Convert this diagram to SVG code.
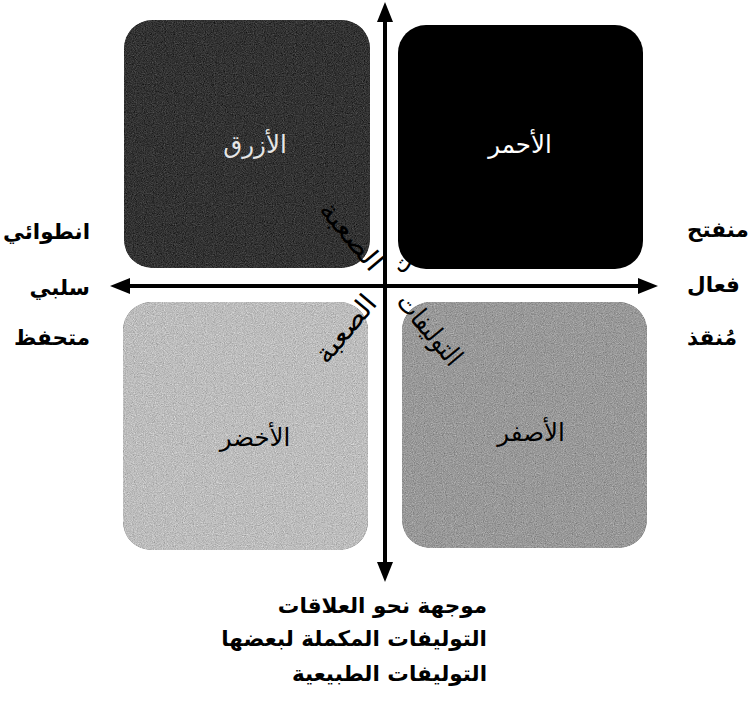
<svg xmlns="http://www.w3.org/2000/svg" width="749" height="701" viewBox="0 0 749 701">
<style>
text{font-family:"DejaVu Sans","Noto Sans",sans-serif;fill:#000}
.lbl{font-size:21.5px;font-weight:bold}
.box{font-size:24.5px;text-anchor:middle}
.side{font-size:21.5px;font-weight:bold}
.diag{font-size:27px;text-anchor:middle}
.axis{stroke:#000;stroke-width:4;fill:none;marker-start:url(#ah);marker-end:url(#ah)}
</style>
<defs>
<marker id="ah" markerUnits="userSpaceOnUse" markerWidth="20" markerHeight="16" refX="12" refY="8" orient="auto-start-reverse" viewBox="0 0 20 16">
<path d="M0,0 L20,8 L0,16 z" fill="#000"/>
</marker>
<filter id="grain" x="0" y="0" width="100%" height="100%" color-interpolation-filters="sRGB">
<feTurbulence type="fractalNoise" baseFrequency="0.9" numOctaves="2" seed="7" result="n"/>
<feColorMatrix in="n" type="matrix" values="0.33 0.33 0.33 0 0  0.33 0.33 0.33 0 0  0.33 0.33 0.33 0 0  0 0 0 0 1" result="g"/>
<feComposite in="SourceGraphic" in2="g" operator="arithmetic" k1="0" k2="1" k3="0.6" k4="-0.3" result="mix"/>
<feComposite in="mix" in2="SourceAlpha" operator="in"/>
</filter>
</defs>
<rect width="749" height="701" fill="#fff"/>
<g id="node-blue">
<rect x="124" y="20" width="246" height="248" rx="28" fill="#333" filter="url(#grain)"/>
<text class="box" x="255" y="153" style="fill:#e6e6e6">الأزرق</text>
</g>
<g id="node-red">
<rect x="398" y="25" width="245" height="244" rx="28" fill="#000"/>
<text class="box" x="520" y="153" style="fill:#fff">الأحمر</text>
</g>
<g id="node-green">
<rect x="123" y="302" width="245" height="248" rx="28" fill="#bdbdbd" filter="url(#grain)"/>
<text class="box" x="255" y="446">الأخضر</text>
</g>
<g id="node-yellow">
<rect x="402" y="302" width="245" height="246" rx="28" fill="#999" filter="url(#grain)"/>
<text class="box" x="531" y="441">الأصفر</text>
</g>
<g id="connectors">
<line class="axis" x1="385" y1="574" x2="385" y2="10"/>
<line class="axis" x1="118" y1="286" x2="650" y2="286"/>
</g>
<g id="labels-left" style="text-anchor:end">
<text class="side" x="90" y="239">انطوائي</text>
<text class="side" x="90" y="295">سلبي</text>
<text class="side" x="90" y="345">متحفظ</text>
</g>
<g id="labels-right" style="text-anchor:start">
<text class="side" x="687" y="237">منفتح</text>
<text class="side" x="687" y="292">فعال</text>
<text class="side" x="687" y="345">مُنقذ</text>
</g>
<g id="labels-bottom" style="text-anchor:end">
<text class="lbl" x="487" y="613">موجهة نحو العلاقات</text>
<text class="lbl" x="487" y="646">التوليفات المكملة لبعضها</text>
<text class="lbl" x="487" y="681">التوليفات الطبيعية</text>
</g>
<g id="diagonal-labels">
<g transform="translate(388,286) rotate(50)">
<text class="diag" x="-62" y="5" textLength="82" lengthAdjust="spacingAndGlyphs">الصعبة</text>
<text class="diag" x="60" y="5" textLength="85" lengthAdjust="spacingAndGlyphs">التوليفات</text>
</g>
<g transform="translate(388,286) rotate(-50)">
<text class="diag" x="-60" y="4" textLength="80" lengthAdjust="spacingAndGlyphs">الصعبة</text>
<text class="diag" x="60" y="4" textLength="85" lengthAdjust="spacingAndGlyphs">التوليفات</text>
</g>
</g>
</svg>
